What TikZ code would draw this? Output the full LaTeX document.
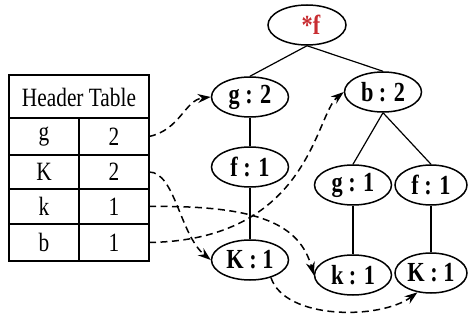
\documentclass[tikz,border=0pt]{standalone}
\usepackage{fontspec}
\usepackage{graphicx}
\setmainfont{Liberation Serif}
\usetikzlibrary{shapes.geometric,arrows.meta}
\definecolor{rootred}{RGB}{200,45,50}
\newcommand{\tallt}[1]{\scalebox{0.97}[1.2]{#1}}
\begin{document}
\begin{tikzpicture}[x=1pt,y=-1pt,
  tnode/.style={ellipse,draw,line width=1.5pt,minimum width=77pt,minimum height=40pt,
    inner sep=0pt,font=\fontsize{23}{23}\selectfont\bfseries},
  branch/.style={line width=1.2pt},
  link/.style={dash pattern=on 7pt off 4.5pt,line width=1.5pt,
    -{Stealth[length=13pt,width=9pt]}},
  cell/.style={font=\fontsize{22}{22}\selectfont,inner sep=0pt},
  grid/.style={line width=1.7pt}]
\useasboundingbox (0,0) rectangle (468,320);

% header table
\draw[grid] (9,75) rectangle (149,261);
\draw[grid] (9,118) -- (149,118);
\draw[grid] (9,155) -- (149,155);
\draw[grid] (9,189) -- (149,189);
\draw[grid] (9,224) -- (149,224);
\draw[grid] (79,118) -- (79,261);
\node[cell] (hdr) at (79,97) {\tallt{Header Table}};
\node[cell] (ig) at (44,136.5) {\tallt{g}};
\node[cell] (cg) at (114,136.5) {\tallt{2}};
\node[cell] (iK) at (44,172) {\tallt{K}};
\node[cell] (cK) at (114,172) {\tallt{2}};
\node[cell] (ik) at (44,206.5) {\tallt{k}};
\node[cell] (ck) at (114,206.5) {\tallt{1}};
\node[cell] (ib) at (44,242.5) {\tallt{b}};
\node[cell] (cb) at (114,242.5) {\tallt{1}};
\coordinate (tg) at (149,136.5);
\coordinate (tK) at (149,172);
\coordinate (tk) at (149,206.5);
\coordinate (tb) at (149,242.5);

% tree
\node[tnode,minimum width=78pt] (root) at (307,25) {\hspace{8pt}\textcolor{rootred}{\tallt{*f}}};
\node[tnode] (g2) at (250,97) {\tallt{g : 2}};
\node[tnode] (f1) at (250,167) {\tallt{f : 1}};
\node[tnode] (K1) at (250,260) {\tallt{K : 1}};
\node[tnode] (b2) at (383,92) {\tallt{b : 2}};
\node[tnode] (g1) at (353,185) {\tallt{g : 1}};
\node[tnode,minimum width=72pt] (f1r) at (431,185) {\tallt{f : 1}};
\node[tnode] (k1) at (353,275) {\tallt{k : 1}};
\node[tnode,minimum width=72pt] (K1r) at (431,273) {\tallt{K : 1}};

\draw[branch] (root.south) -- (g2.north);
\draw[branch] (root.south) -- (b2.north);
\draw[branch] (g2.south) -- (f1.north);
\draw[branch] (f1.south) -- (K1.north);
\draw[branch] (b2.south) -- (g1.north);
\draw[branch] (b2.south) -- (f1r.north);
\draw[branch] (g1.south) -- (k1.north);
\draw[branch] (f1r.south) -- (K1r.north);

% node links
\draw[link] (tg) .. controls (180,130) and (185,100) .. (g2.west);
\draw[link] (tK) .. controls (175,172) and (180,235) .. (K1.west);
\draw[link] (tk) .. controls (260,205) and (300,225) .. (k1.west);
\draw[link] (tb) .. controls (310,240) and (315,115) .. (b2.west);
\draw[link] (K1.-40) .. controls (285,320) and (380,320) .. (K1r.-125);
\end{tikzpicture}
\end{document}
